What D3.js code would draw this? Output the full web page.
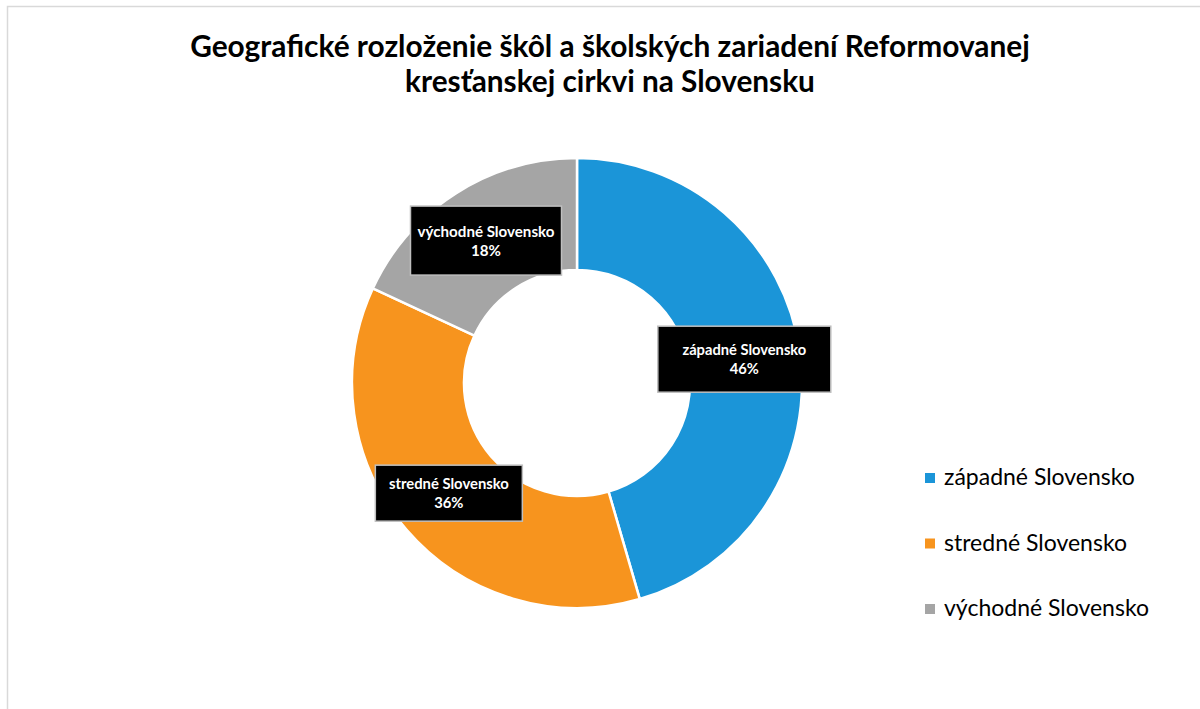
<!DOCTYPE html>
<html>
<head>
<meta charset="utf-8">
<script src="https://cdn.jsdelivr.net/npm/d3@7"></script>
<style>
  html, body { margin: 0; padding: 0; background: #fff; }
  svg { display: block; }
  text { font-family: Lato, "Open Sans", "Liberation Sans", sans-serif; }
</style>
</head>
<body>
<svg id="chart" width="1200" height="709"></svg>
<script>
// ---- data ----
const titleLines = ["Geografické rozloženie škôl a školských zariadení Reformovanej", "kresťanskej cirkvi na Slovensku"];
const categories = ["západné Slovensko", "stredné Slovensko", "východné Slovensko"];
const values = [45.5, 36.4, 18.1];
const percentLabels = ["46%", "36%", "18%"];

// ---- style / layout config ----
const colors = ["#1b95d8", "#f7941e", "#a5a5a5"];
const W = 1200, H = 709;
const cx = 577, cy = 383, outerR = 225, innerR = 113;
const labelBoxSizes = [[173, 66], [147, 56], [151, 69]];

const svg = d3.select("#chart");

// chart area border
svg.append("rect")
  .attr("x", 7.5).attr("y", 6.5)
  .attr("width", W + 20).attr("height", H + 20)
  .attr("fill", "#fff").attr("stroke", "#d9d9d9").attr("stroke-width", 1.5);

function fitWidth(sel, target) {
  const w = sel.node().getComputedTextLength();
  const fs = parseFloat(sel.attr("font-size"));
  sel.attr("font-size", fs * target / w);
}

// title
const titleWidths = [840, 410];
const titleBaselines = [57, 92];
titleLines.forEach((t, i) => {
  const el = svg.append("text")
    .attr("x", 610).attr("y", titleBaselines[i])
    .attr("text-anchor", "middle")
    .attr("font-weight", "bold")
    .attr("font-size", 26)
    .attr("fill", "#000")
    .text(t);
  fitWidth(el, titleWidths[i]);
});

// donut
const pie = d3.pie().sort(null).value(d => d);
const arcs = pie(values);
const arc = d3.arc().innerRadius(innerR).outerRadius(outerR);
const g = svg.append("g").attr("transform", `translate(${cx},${cy})`);

g.selectAll("path.slice")
  .data(arcs)
  .join("path")
  .attr("class", "slice")
  .attr("d", arc)
  .attr("fill", (d, i) => colors[i])
  .attr("stroke", "#fff")
  .attr("stroke-width", 2.5)
  .attr("stroke-linejoin", "round");

// data labels
const labelG = g.selectAll("g.lbl")
  .data(arcs)
  .join("g")
  .attr("class", "lbl")
  .attr("transform", d => { const c = arc.centroid(d); return `translate(${c[0]},${c[1]})`; });

labelG.append("rect")
  .attr("x", (d, i) => -labelBoxSizes[i][0] / 2)
  .attr("y", (d, i) => -labelBoxSizes[i][1] / 2)
  .attr("width", (d, i) => labelBoxSizes[i][0])
  .attr("height", (d, i) => labelBoxSizes[i][1])
  .attr("fill", "#000")
  .attr("stroke", "#bfbfbf")
  .attr("stroke-width", 1.5);

const labelTextWidths = [124, 120, 137];
labelG.each(function(d, i) {
  const sel = d3.select(this);
  const t1 = sel.append("text")
    .attr("x", 0).attr("y", -4)
    .attr("text-anchor", "middle")
    .attr("font-weight", "bold")
    .attr("font-size", 13)
    .attr("fill", "#fff")
    .text(categories[i]);
  fitWidth(t1, labelTextWidths[i]);
  sel.append("text")
    .attr("x", 0).attr("y", 15)
    .attr("text-anchor", "middle")
    .attr("font-weight", "bold")
    .attr("font-size", t1.attr("font-size"))
    .attr("fill", "#fff")
    .text(percentLabels[i]);
});

// legend
const legendY = d3.scalePoint().domain(categories).range([478, 609]);
const legend = svg.append("g");
const items = legend.selectAll("g.item")
  .data(categories)
  .join("g")
  .attr("class", "item")
  .attr("transform", d => `translate(925,${legendY(d)})`);
items.append("rect")
  .attr("x", 0).attr("y", -5)
  .attr("width", 10).attr("height", 10)
  .attr("fill", (d, i) => colors[i]);
let legendFs = null;
items.append("text")
  .attr("x", 19).attr("y", 7)
  .attr("font-size", 20)
  .attr("fill", "#000")
  .text(d => d)
  .each(function(d, i) {
    if (i === 0) {
      const w = this.getComputedTextLength();
      legendFs = 20 * 191 / w;
    }
  });
items.selectAll("text").attr("font-size", legendFs);
</script>
</body>
</html>
